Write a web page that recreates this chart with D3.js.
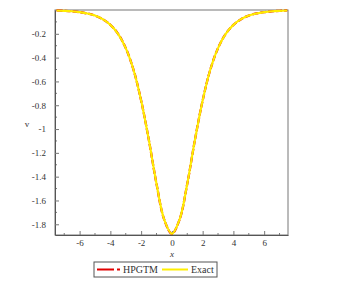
<!DOCTYPE html>
<html>
<head>
<meta charset="utf-8">
<script src="https://cdn.jsdelivr.net/npm/d3@7"></script>
<style>
  body { margin: 0; background: #fff; }
  svg { display: block; }
</style>
</head>
<body>
<div class="chart"></div>
<script>
// x positions and values (symmetric soliton)
const xs = [-7.5, -7, -6.5, -6, -5.5, -5, -4.5, -4, -3.5, -3, -2.5, -2, -1.5, -1, -0.5, 0,
  0.5, 1, 1.5, 2, 2.5, 3, 3.5, 4, 4.5, 5, 5.5, 6, 6.5, 7, 7.5]
const exact = [-0.004, -0.007, -0.011, -0.018, -0.029, -0.047, -0.077, -0.125, -0.2, -0.32, -0.5, -0.76, -1.09, -1.46, -1.76, -1.88,
  -1.76, -1.46, -1.09, -0.76, -0.5, -0.32, -0.2, -0.125, -0.077, -0.047, -0.029, -0.018, -0.011, -0.007, -0.004]
const hpgtm = [-0.004, -0.007, -0.011, -0.018, -0.029, -0.047, -0.077, -0.125, -0.2, -0.32, -0.5, -0.76, -1.09, -1.46, -1.76, -1.88,
  -1.76, -1.46, -1.09, -0.76, -0.5, -0.32, -0.2, -0.125, -0.077, -0.047, -0.029, -0.018, -0.011, -0.007, -0.004]
const xTicks = [-6, -4, -2, 0, 2, 4, 6]
const yTicks = [-0.2, -0.4, -0.6, -0.8, -1, -1.2, -1.4, -1.6, -1.8]
const seriesNames = ['HPGTM', 'Exact']

const W = 343
const H = 284
const margin = {top: 10, right: 55, bottom: 49, left: 55}
const width = W - margin.left - margin.right
const height = H - margin.top - margin.bottom
const serif = "'Liberation Serif', 'DejaVu Serif', serif"
const fmt = d => String(d)

const svg = d3.select('.chart').append('svg')
  .attr('width', W)
  .attr('height', H)

const g = svg.append('g')
  .attr('transform', `translate(${margin.left},${margin.top})`)

const x = d3.scaleLinear().domain([-7.6, 7.55]).range([0, width])
const y = d3.scaleLinear().domain([-1.89, 0]).range([height, 0])

// frame
g.append('rect')
  .attr('width', width)
  .attr('height', height)
  .attr('fill', 'none')
  .attr('stroke', '#777')
  .attr('stroke-width', 1)

// minor ticks
const minorX = d3.range(-7, 8, 1).filter(d => d % 2 !== 0)
const minorY = d3.range(-0.1, -1.9, -0.2)

g.append('g').selectAll('line').data(minorX).join('line')
  .attr('x1', d => x(d)).attr('x2', d => x(d))
  .attr('y1', height).attr('y2', height - 2)
  .attr('stroke', '#777')
g.append('g').selectAll('line').data(minorY).join('line')
  .attr('y1', d => y(d)).attr('y2', d => y(d))
  .attr('x1', 0).attr('x2', 2)
  .attr('stroke', '#777')

function styleAxis (sel) {
  sel.attr('font-family', serif).attr('font-size', 9)
  sel.select('.domain').attr('stroke', '#555')
  sel.selectAll('.tick line').attr('stroke', '#777')
  sel.selectAll('.tick text').attr('fill', '#333')
}

const axisB = g.append('g')
  .attr('transform', `translate(0,${height})`)
  .call(d3.axisBottom(x).tickValues(xTicks).tickFormat(fmt).tickSizeInner(-4).tickSizeOuter(0).tickPadding(5))
styleAxis(axisB)

const axisL = g.append('g')
  .call(d3.axisLeft(y).tickValues(yTicks).tickFormat(fmt).tickSizeInner(-4).tickSizeOuter(0).tickPadding(9))
styleAxis(axisL)

// axis labels
g.append('text')
  .attr('x', x(0))
  .attr('y', height + 22)
  .attr('text-anchor', 'middle')
  .attr('font-family', serif)
  .attr('font-style', 'italic')
  .attr('font-size', 9)
  .attr('fill', '#333')
  .text('x')

svg.append('text')
  .attr('x', 27)
  .attr('y', 127)
  .attr('text-anchor', 'middle')
  .attr('font-family', serif)
  .attr('font-size', 9)
  .attr('fill', '#333')
  .text('v')

const line = vals => d3.line()
  .x((d, i) => x(xs[i]))
  .y(d => y(d))
  .curve(d3.curveCatmullRom)(vals)

g.append('path')
  .attr('d', line(hpgtm))
  .attr('fill', 'none')
  .attr('stroke', '#e00000')
  .attr('stroke-width', 2.3)
  .attr('stroke-dasharray', '6,2')

g.append('path')
  .attr('d', line(exact))
  .attr('fill', 'none')
  .attr('stroke', '#ffee00')
  .attr('stroke-width', 2.1)

// legend
const lg = svg.append('g').attr('transform', 'translate(94,262)')
lg.append('rect')
  .attr('width', 123)
  .attr('height', 15)
  .attr('fill', '#fff')
  .attr('stroke', '#555')

lg.append('line')
  .attr('x1', 3).attr('x2', 20).attr('y1', 7.5).attr('y2', 7.5)
  .attr('stroke', '#e00000').attr('stroke-width', 2)
lg.append('line')
  .attr('x1', 23).attr('x2', 26).attr('y1', 7.5).attr('y2', 7.5)
  .attr('stroke', '#e00000').attr('stroke-width', 2)
lg.append('line')
  .attr('x1', 68).attr('x2', 94).attr('y1', 7.5).attr('y2', 7.5)
  .attr('stroke', '#ffee00').attr('stroke-width', 2)

lg.selectAll('text.lbl').data(seriesNames).join('text')
  .attr('class', 'lbl')
  .attr('x', (d, i) => i === 0 ? 29 : 97)
  .attr('y', 11)
  .attr('font-family', serif)
  .attr('font-size', 10)
  .attr('fill', '#333')
  .text(d => d)
</script>
</body>
</html>
